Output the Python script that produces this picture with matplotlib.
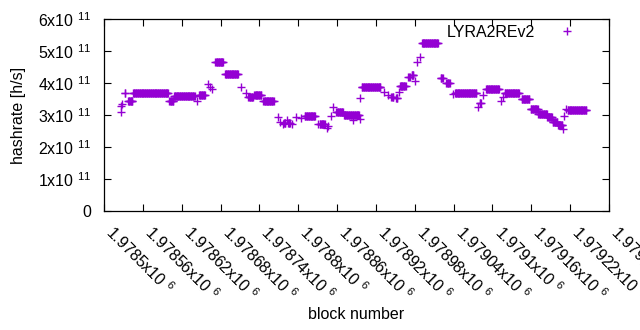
import numpy as np
import matplotlib
matplotlib.use("Agg")
import matplotlib.pyplot as plt
from matplotlib.transforms import ScaledTranslation

plt.rcParams['font.family'] = ['Liberation Sans', 'DejaVu Sans']
plt.rcParams['mathtext.fontset'] = 'custom'
plt.rcParams['mathtext.rm'] = 'Liberation Sans'
plt.rcParams['mathtext.it'] = 'Liberation Sans'
plt.rcParams['mathtext.bf'] = 'Liberation Sans'

BASE_BLOCK = 1978500
# constant-value runs of blocks: start offset, end offset, hashrate (x1e11 h/s)
run_start = [26, 27, 28, 32, 37, 45, 101, 108, 143, 147, 161, 163, 167, 172, 187,
             211, 219, 223, 232, 246, 268, 272, 276, 278, 283, 284, 291, 297, 304,
             310, 331, 333, 345, 346, 350, 354, 359, 371, 385, 395, 396, 398, 433,
             439, 444, 451, 455, 457, 470, 475, 481, 483, 488, 491, 520, 529, 539,
             542, 578, 580, 586, 590, 613, 616, 619, 645, 659, 671, 685, 693, 701,
             709, 711, 714, 716]
run_end = [26, 27, 28, 33, 44, 99, 107, 140, 143, 156, 161, 163, 167, 184, 207,
           211, 219, 230, 243, 262, 268, 272, 276, 280, 283, 287, 291, 297, 304,
           326, 331, 341, 345, 346, 350, 354, 369, 394, 385, 395, 396, 427, 433,
           439, 447, 453, 455, 466, 472, 478, 481, 483, 488, 516, 523, 534, 539,
           575, 578, 582, 586, 610, 613, 616, 641, 657, 670, 684, 692, 700, 708,
           709, 711, 714, 745]
run_value = [3.10, 3.28, 3.34, 3.68, 3.45, 3.68, 3.45, 3.60, 3.45, 3.63, 3.97, 3.87,
             3.80, 4.65, 4.27, 3.87, 3.70, 3.57, 3.62, 3.44, 2.93, 2.79, 2.72, 2.74,
             2.84, 2.74, 2.72, 2.95, 2.90, 2.97, 2.72, 2.71, 2.60, 2.65, 2.97, 3.24,
             3.08, 3.01, 2.84, 2.87, 3.52, 3.87, 3.71, 3.62, 3.57, 3.54, 3.73, 3.91,
             4.18, 4.25, 4.07, 4.67, 4.80, 5.24, 4.15, 3.99, 3.65, 3.68, 3.24, 3.37,
             3.62, 3.80, 3.44, 3.57, 3.68, 3.49, 3.18, 3.03, 2.93, 2.79, 2.69, 2.55,
             2.97, 3.18, 3.16]

x_tick_values = list(range(1978500, 1979281, 60))
y_tick_values = [0, 1e11, 2e11, 3e11, 4e11, 5e11, 6e11]
y_tick_labels = ['0', r'1x10$\ ^{11}$', r'2x10$\ ^{11}$', r'3x10$\ ^{11}$',
                 r'4x10$\ ^{11}$', r'5x10$\ ^{11}$', r'6x10$\ ^{11}$']
series_name = 'LYRA2REv2'

blocks, rates = [], []
for s, e, v in zip(run_start, run_end, run_value):
    for b in range(s, e + 1):
        blocks.append(BASE_BLOCK + b)
        rates.append(v * 1e11)

FS = 11.5
fig = plt.figure(figsize=(6.4, 3.3), dpi=100)
ax = fig.add_axes([104/640, 1 - 211/330, (609-104)/640, (211-19)/330])
color = '#9400D3'
ax.plot(blocks, rates, linestyle='none', marker='+', markersize=6.0,
        markeredgewidth=1.0, color=color, label=series_name)

ax.set_xlim(1978500, 1979280)
ax.set_ylim(0, 6e11)
ax.set_yticks(y_tick_values)
ax.set_yticklabels(y_tick_labels, fontsize=FS)
ax.set_xticks(x_tick_values)
xlabels = [('%g' % (v / 1e6)) + r'x10$\ ^{6}$' for v in x_tick_values]
ax.set_xticklabels(xlabels, fontsize=FS, rotation=-45, ha='left', va='center',
                   rotation_mode='anchor')
ax.tick_params(direction='in', length=5, width=0.8, top=True, right=True,
               colors='black')
ax.tick_params(axis='y', pad=9)
ax.tick_params(axis='x', pad=13)
offset = ScaledTranslation(5/100, 0, fig.dpi_scale_trans)
for lab in ax.get_xticklabels():
    lab.set_transform(lab.get_transform() + offset)
for sp in ax.spines.values():
    sp.set_linewidth(0.9)

ax.set_ylabel('hashrate [h/s]', fontsize=FS)
ax.set_xlabel('block number', fontsize=FS)
ax.xaxis.set_label_coords(0.5, -0.50)
ax.yaxis.set_label_coords(-0.154, 0.5)

leg = ax.legend(loc='upper right', frameon=False, markerfirst=False,
                fontsize=FS, handlelength=4.5, borderaxespad=0.0,
                borderpad=0.35, handletextpad=-0.2)

fig.savefig('out.png', dpi=100)
